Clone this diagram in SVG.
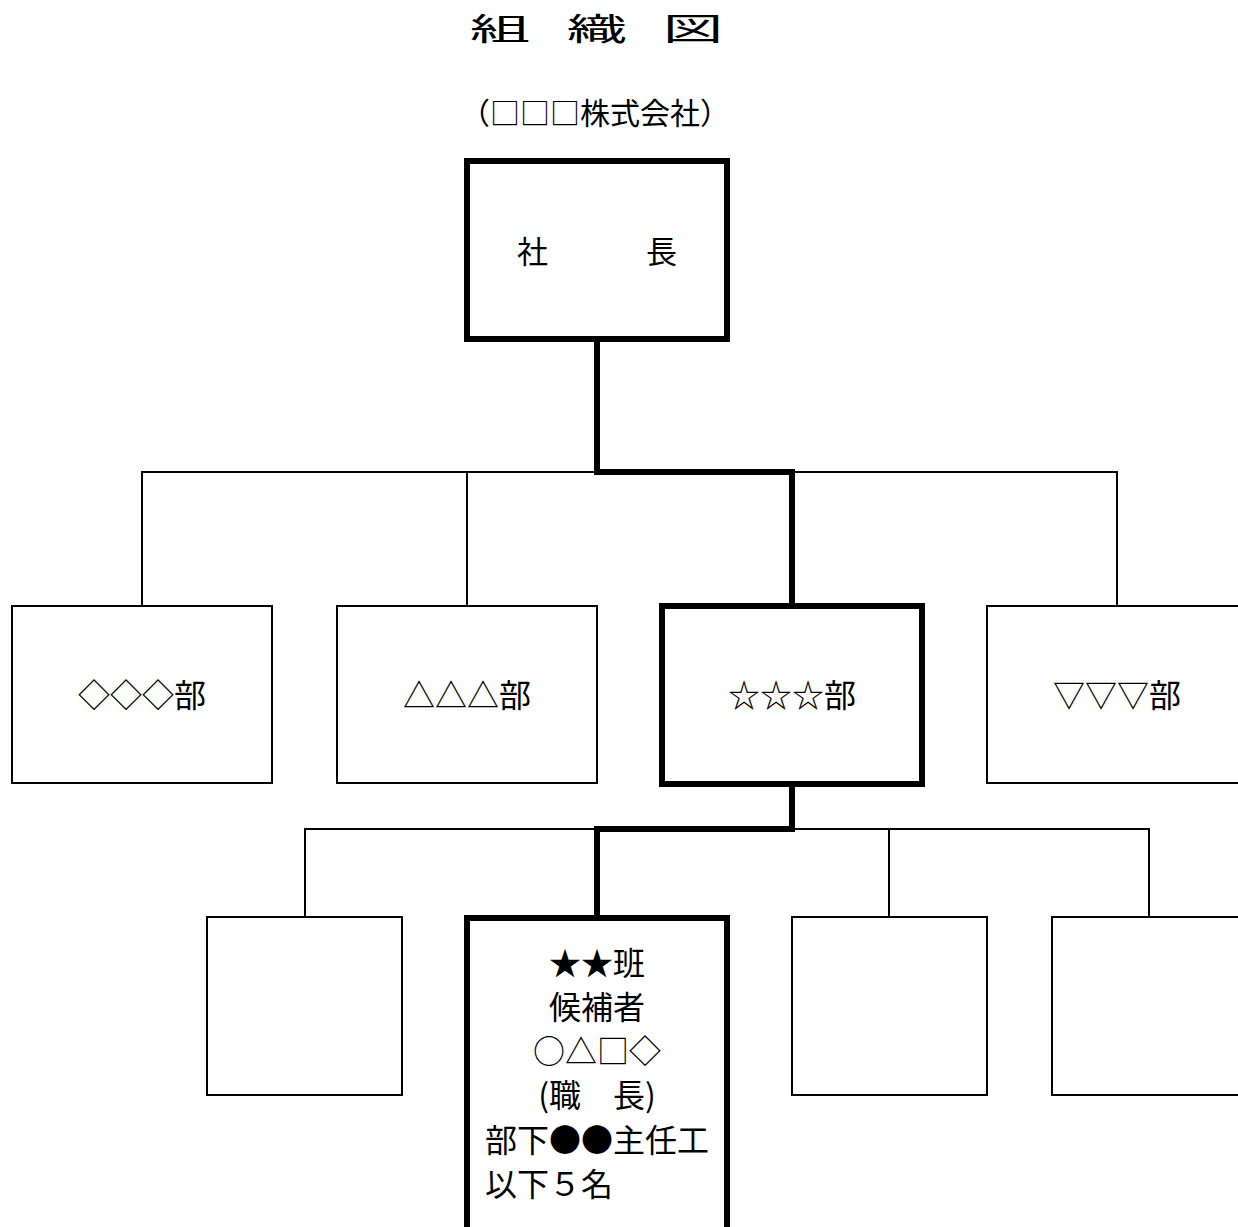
<svg xmlns="http://www.w3.org/2000/svg" width="1238" height="1227" viewBox="0 0 1238 1227">
<style>
text{font-family:"Noto Sans CJK JP","Noto Sans CJK SC",sans-serif;fill:#000}
.thin{fill:#fff;stroke:#000;stroke-width:2}
.thick{fill:#fff;stroke:#000;stroke-width:6}
.cthin{fill:none;stroke:#000;stroke-width:2}
.cthick{fill:none;stroke:#000;stroke-width:6}
.lbl{font-size:32px;text-anchor:middle}
</style>
<rect width="1238" height="1227" fill="#fff"/>
<g id="title">
<text font-size="31" text-anchor="middle" transform="translate(500,40) scale(1.95,1)">組</text>
<text font-size="31" text-anchor="middle" transform="translate(597,40) scale(1.95,1)">織</text>
<text font-size="31" text-anchor="middle" transform="translate(693,40) scale(1.95,1)">図</text>
</g>
<text id="subtitle" x="595" y="124" font-size="30" text-anchor="middle">（□□□株式会社）</text>
<g id="connectors">
<path class="cthin" d="M142,606 V472 H1117 V606 M467,472 V606"/>
<path class="cthick" d="M597,342 V472 H792 V606"/>
<path class="cthin" d="M305,917 V829 H1149 V917 M889,829 V917"/>
<path class="cthick" d="M792,784 V829 H597 V918"/>
</g>
<g id="president">
<rect class="thick" x="467" y="161" width="260" height="178"/>
<text font-size="31"><tspan x="517" y="263">社</tspan><tspan x="646" y="263">長</tspan></text>
</g>
<g id="dept1">
<rect class="thin" x="12" y="606" width="260" height="177"/>
<text class="lbl" x="142" y="707">◇◇◇部</text>
</g>
<g id="dept2">
<rect class="thin" x="337" y="606" width="260" height="177"/>
<text class="lbl" x="467" y="707">△△△部</text>
</g>
<g id="dept3">
<rect class="thick" x="662" y="606" width="260" height="178"/>
<text class="lbl" x="792" y="707">☆☆☆部</text>
</g>
<g id="dept4">
<rect class="thin" x="987" y="606" width="260" height="177"/>
<text class="lbl" x="1117" y="707">▽▽▽部</text>
</g>
<g id="team1">
<rect class="thin" x="207" y="917" width="195" height="178"/>
</g>
<g id="team2">
<rect class="thick" x="467" y="918" width="260" height="340"/>
<text class="lbl" x="597" y="975">★★班</text>
<text class="lbl" x="597" y="1019">候補者</text>
<text class="lbl" x="597" y="1063">○△□◇</text>
<text class="lbl" x="597" y="1107">(職　長)</text>
<text class="lbl" x="597" y="1152">部下●●主任工</text>
<text font-size="32" x="485" y="1196">以下５名</text>
</g>
<g id="team3">
<rect class="thin" x="792" y="917" width="195" height="178"/>
</g>
<g id="team4">
<rect class="thin" x="1052" y="917" width="195" height="178"/>
</g>
</svg>
